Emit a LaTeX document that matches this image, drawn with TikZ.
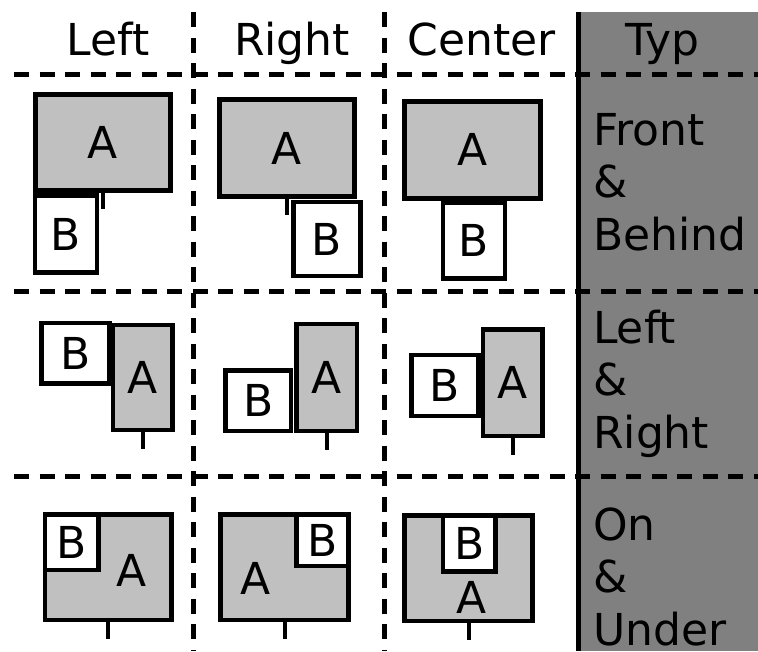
\documentclass[tikz,border=0pt]{standalone}
\usepackage{fontspec}
\setmainfont{DejaVu Sans}
\definecolor{TypGray}{HTML}{808080}
\definecolor{BoxGray}{HTML}{C0C0C0}

\begin{document}
\begin{tikzpicture}[x=1pt,y=-1pt,
    lbl/.style={font=\fontsize{44}{52.5}\selectfont,inner sep=0pt},
    boxa/.style 2 args={lbl,draw,line width=4.8pt,fill=BoxGray,minimum width=#1pt,minimum height=#2pt},
    boxb/.style 2 args={lbl,draw,line width=4.8pt,fill=white,minimum width=#1pt,minimum height=#2pt},
    tick/.style={line width=4pt},
    grid/.style={line width=5pt,dash pattern=on 15pt off 10.5pt}]
    \useasboundingbox (0,0) rectangle (758,651);
    % type column
    \fill[TypGray] (579,12) rectangle (758,651);
    \draw[line width=4.5pt] (578.5,12) -- (578.5,651);
    \foreach \y in {74.5,291.5,476}
      \draw[grid] (14,\y) -- (758,\y);
    \foreach \x in {193.5,384}
      \draw[grid] (\x,12) -- (\x,651);
    % headers
    \node[lbl,anchor=base] (hLeft) at (108,55) {Left};
    \node[lbl,anchor=base] (hRight) at (292,55) {Right};
    \node[lbl,anchor=base] (hCenter) at (482,55) {Center};
    \node[lbl,anchor=base] (hTyp) at (662,55) {Typ};
    \node[lbl,anchor=base west,align=left] (tFront) at (593,250) {Front\\\&\\Behind};
    \node[lbl,anchor=base west,align=left] (tLeft) at (593,448) {Left\\\&\\Right};
    \node[lbl,anchor=base west,align=left] (tOn) at (593,645) {On\\\&\\Under};
    % front & behind
    \node[boxa={135.5}{96.5}] (a11) at (103,142.5) {A};
    \draw[tick] (a11.south) -- ++(0,16);
    \node[boxb={62}{77}] (b11) at (66,234) {B};
    \node[boxa={135.5}{97.5}] (a12) at (287,148) {A};
    \draw[tick] (a12.south) -- ++(0,16);
    \node[boxb={66.5}{74}] (b12) at (327,239) {B};
    \node[boxa={136}{97}] (a13) at (472.6,149.9) {A};
    \draw[tick] (a13.south) -- ++(0,16);
    \node[boxb={62}{76}] (b13) at (474,240.5) {B};
    % left & right
    \node[boxa={59.75}{105}] (a21) at (142.9,377.5) {A};
    \draw[tick] (a21.south) -- ++(0,17);
    \node[boxb={68}{60.75}] (b21) at (75.5,353.4) {B};
    \node[boxa={60.75}{107}] (a22) at (326.6,377.5) {A};
    \draw[tick] (a22.south) -- ++(0,17);
    \node[boxb={65.5}{60.5}] (b22) at (258.3,400.8) {B};
    \node[boxa={59.5}{106.5}] (a23) at (512.7,382.8) {A};
    \draw[tick] (a23.south) -- ++(0,17);
    \node[boxb={67}{61}] (b23) at (444.9,385.5) {B};
    % on & under
    \node[boxa={126.75}{105.5}] (a31) at (108.4,567.3) {};
    \draw[tick] (a31.south) -- ++(0,17);
    \node[boxb={53.5}{55.5}] (b31) at (71.75,542.3) {B};
    \node[lbl] (la31) at (132,570) {A};
    \node[boxa={128}{105.5}] (a32) at (284.5,567.3) {};
    \draw[tick] (a32.south) -- ++(0,17);
    \node[boxb={52.25}{51.5}] (b32) at (322.4,540.3) {B};
    \node[lbl] (la32) at (256,578) {A};
    \node[boxa={128}{105.5}] (a33) at (468.5,568.3) {};
    \draw[tick] (a33.south) -- ++(0,17);
    \node[boxb={52.75}{56.25}] (b33) at (469.4,543.6) {B};
    \node[lbl] (la33) at (472,597) {A};
  \end{tikzpicture}
\end{document}
